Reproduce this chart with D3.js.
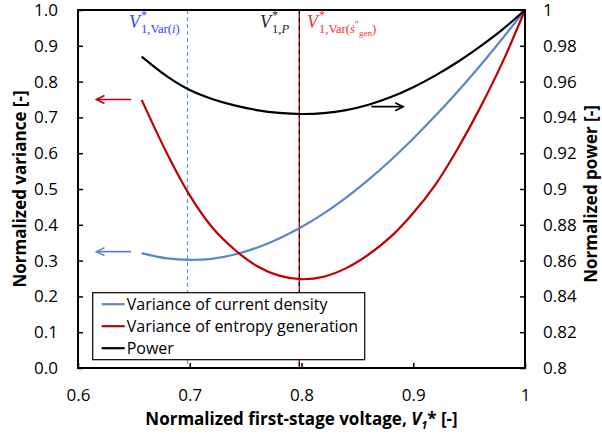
<!DOCTYPE html>
<html lang="en">
<head>
  <meta charset="UTF-8">
  <script src="https://d3js.org/d3.v7.min.js"></script>
  <style>
    body { margin: 0; background: white; }
    text { font-family: "Open Sans", sans-serif; fill: #000; }
    .tick-label { font-size: 17px; }
    .axis-title { font-size: 17px; font-weight: bold; }
    .legend-text { font-size: 16px; }
    .tex { font-family: "Liberation Serif", "DejaVu Serif", serif; }
  </style>
</head>
<body>
  <div id="chart"></div>
  <script>
    // normalized first-stage voltage V1*
    var voltage = [0.657, 0.68, 0.70, 0.72, 0.74, 0.76, 0.78, 0.80, 0.82, 0.84, 0.86, 0.88, 0.90, 0.92, 0.94, 0.96, 0.98, 1.00];
    // left axis: normalized variance
    var varCurrent = [0.321, 0.306, 0.302, 0.305, 0.317, 0.336, 0.362, 0.394, 0.432, 0.476, 0.526, 0.581, 0.641, 0.705, 0.773, 0.845, 0.921, 1.0];
    var varEntropy = [0.749, 0.597, 0.482, 0.393, 0.331, 0.285, 0.258, 0.248, 0.255, 0.279, 0.317, 0.367, 0.433, 0.513, 0.614, 0.728, 0.855, 1.0];
    // right axis: normalized power
    var power = [0.974, 0.9628, 0.9553, 0.9503, 0.9467, 0.9441, 0.9425, 0.9419, 0.9424, 0.9441, 0.9471, 0.9514, 0.9569, 0.9635, 0.9711, 0.9797, 0.9892, 1.0];

    var xTicks = [0.6, 0.7, 0.8, 0.9, 1];
    var yLeftTicks = [0, 0.1, 0.2, 0.3, 0.4, 0.5, 0.6, 0.7, 0.8, 0.9, 1.0];
    var yRightTicks = [0.8, 0.82, 0.84, 0.86, 0.88, 0.9, 0.92, 0.94, 0.96, 0.98, 1];

    // optimum voltages (dashed markers)
    var optCurrent = 0.698;
    var optPower = 0.798;

    var legendNames = ["Variance of current density", "Variance of entropy generation", "Power"];
    var colors = ["#5b87c5", "#c00000", "#000000"];

    var margin = { top: 10, right: 77, bottom: 70, left: 78 },
        width = 602 - margin.left - margin.right,
        height = 438 - margin.top - margin.bottom;

    var svg = d3.select("#chart").append("svg")
      .attr("width", 602)
      .attr("height", 438);
    var g = svg.append("g").attr("transform", "translate(" + margin.left + "," + margin.top + ")");

    var x = d3.scaleLinear().domain([0.6, 1]).range([0, width]);
    var yL = d3.scaleLinear().domain([0, 1]).range([height, 0]);
    var yR = d3.scaleLinear().domain([0.8, 1]).range([height, 0]);

    // dashed markers
    g.append("line")
      .attr("x1", x(optCurrent)).attr("x2", x(optCurrent))
      .attr("y1", 0).attr("y2", height)
      .attr("stroke", "#5b9bd5").attr("stroke-width", 1.2)
      .attr("stroke-dasharray", "4,3");
    g.append("line")
      .attr("x1", x(optPower)).attr("x2", x(optPower))
      .attr("y1", 0).attr("y2", height)
      .attr("stroke", "#000").attr("stroke-width", 1.4)
      .attr("stroke-dasharray", "4,4");
    g.append("line")
      .attr("x1", x(optPower)).attr("x2", x(optPower))
      .attr("y1", 0).attr("y2", height)
      .attr("stroke", "#e00000").attr("stroke-width", 1.4)
      .attr("stroke-dasharray", "4,4").attr("stroke-dashoffset", 4);

    // curves
    var lineL = d3.line().x((d, i) => x(voltage[i])).y(d => yL(d)).curve(d3.curveCatmullRom);
    var lineR = d3.line().x((d, i) => x(voltage[i])).y(d => yR(d)).curve(d3.curveCatmullRom);

    g.append("path").datum(varCurrent).attr("d", lineL)
      .attr("fill", "none").attr("stroke", colors[0]).attr("stroke-width", 2.2);
    g.append("path").datum(varEntropy).attr("d", lineL)
      .attr("fill", "none").attr("stroke", colors[1]).attr("stroke-width", 2.2);
    g.append("path").datum(power).attr("d", lineR)
      .attr("fill", "none").attr("stroke", colors[2]).attr("stroke-width", 2.2);

    // axis arrows
    function arrow(x0, x1, yy, col) {
      var dir = x1 > x0 ? 1 : -1;
      g.append("line").attr("x1", x0).attr("x2", x1).attr("y1", yy).attr("y2", yy)
        .attr("stroke", col).attr("stroke-width", 1.6);
      g.append("path")
        .attr("d", "M" + (x1 - dir * 8) + "," + (yy - 4) + "L" + x1 + "," + yy + "L" + (x1 - dir * 8) + "," + (yy + 4))
        .attr("fill", "none").attr("stroke", col).attr("stroke-width", 1.6);
    }
    arrow(x(0.6475), x(0.6165), yL(0.75), colors[1]);
    arrow(x(0.6475), x(0.6165), yL(0.325), colors[0]);
    arrow(x(0.8625), x(0.891), yR(0.946), colors[2]);

    // frame
    g.append("rect").attr("width", width).attr("height", height)
      .attr("fill", "none").attr("stroke", "#000").attr("stroke-width", 2);

    // axes
    var xAxis = g.append("g").attr("transform", "translate(0," + height + ")")
      .call(d3.axisBottom(x).tickValues(xTicks).tickFormat(d3.format("~g")).tickSizeInner(-5).tickSizeOuter(0).tickPadding(21));
    var yAxisL = g.append("g")
      .call(d3.axisLeft(yL).tickValues(yLeftTicks).tickFormat(d3.format(".1f")).tickSizeInner(-5).tickSizeOuter(0).tickPadding(20));
    var yAxisR = g.append("g").attr("transform", "translate(" + width + ",0)")
      .call(d3.axisRight(yR).tickValues(yRightTicks).tickFormat(d3.format("~g")).tickSizeInner(-5).tickSizeOuter(0).tickPadding(18));
    [xAxis, yAxisL, yAxisR].forEach(function (a) {
      a.select(".domain").remove();
      a.selectAll(".tick line").attr("stroke", "#000").attr("stroke-width", 1.5);
      a.selectAll(".tick text").attr("class", "tick-label").attr("font-family", null).attr("font-size", null);
      a.attr("font-family", null).attr("font-size", null);
    });

    // legend
    var leg = g.append("g").attr("transform", "translate(" + (92.7 - margin.left) + "," + (292.7 - margin.top) + ")");
    leg.append("rect").attr("width", 272).attr("height", 67)
      .attr("fill", "white").attr("stroke", "#000").attr("stroke-width", 1.2);
    legendNames.forEach(function (name, i) {
      var yy = 11.5 + i * 22;
      leg.append("line").attr("x1", 9).attr("x2", 32).attr("y1", yy).attr("y2", yy)
        .attr("stroke", colors[i]).attr("stroke-width", 2.2);
      leg.append("text").attr("class", "legend-text").attr("x", 34).attr("y", yy + 5.6).text(name);
    });

    // axis titles
    svg.append("text").attr("class", "axis-title")
      .attr("transform", "translate(26," + (margin.top + height / 2) + ") rotate(-90)")
      .attr("text-anchor", "middle").text("Normalized variance [-]");
    svg.append("text").attr("class", "axis-title")
      .attr("transform", "translate(597,194) rotate(-90)")
      .attr("text-anchor", "middle").text("Normalized power [-]");
    var xt = svg.append("text").attr("class", "axis-title")
      .attr("x", margin.left + width / 2).attr("y", 425).attr("text-anchor", "middle");
    xt.append("tspan").text("Normalized first-stage voltage, ");
    xt.append("tspan").attr("font-style", "italic").text("V");
    xt.append("tspan").attr("font-style", "italic").attr("font-size", "11px").attr("dy", 4).text("1");
    xt.append("tspan").attr("dy", -4).text("* [-]");

    // optimum labels
    function texLabel(xp, col, parts) {
      var t = svg.append("text").attr("class", "tex").attr("x", xp).attr("y", 28)
        .style("fill", col).attr("font-size", "18px");
      t.append("tspan").attr("font-style", "italic").text("V");
      t.append("tspan").attr("font-size", "12px").attr("dy", -9).attr("dx", 1).text("*");
      var first = true;
      parts.forEach(function (p) {
        var s = t.append("tspan").attr("font-size", p.size || "12.5px").text(p.t);
        if (p.it) s.attr("font-style", "italic");
        if (first) { s.attr("dx", -6).attr("dy", 14); first = false; }
        if (p.dy) s.attr("dy", p.dy);
      });
      return t;
    }
    texLabel(129, "#3b3bff", [{ t: "1,Var(" }, { t: "i", it: true }, { t: ")" }]);
    texLabel(260, "#222", [{ t: "1," }, { t: "P", it: true }]);
    texLabel(307, "#ff2a2a", [{ t: "1,Var(" }, { t: "ṡ", it: true }, { t: "″", size: "10px", dy: -5 },
      { t: "gen", size: "9px", dy: 8 }, { t: ")", dy: -3 }]);
  </script>
</body>
</html>
